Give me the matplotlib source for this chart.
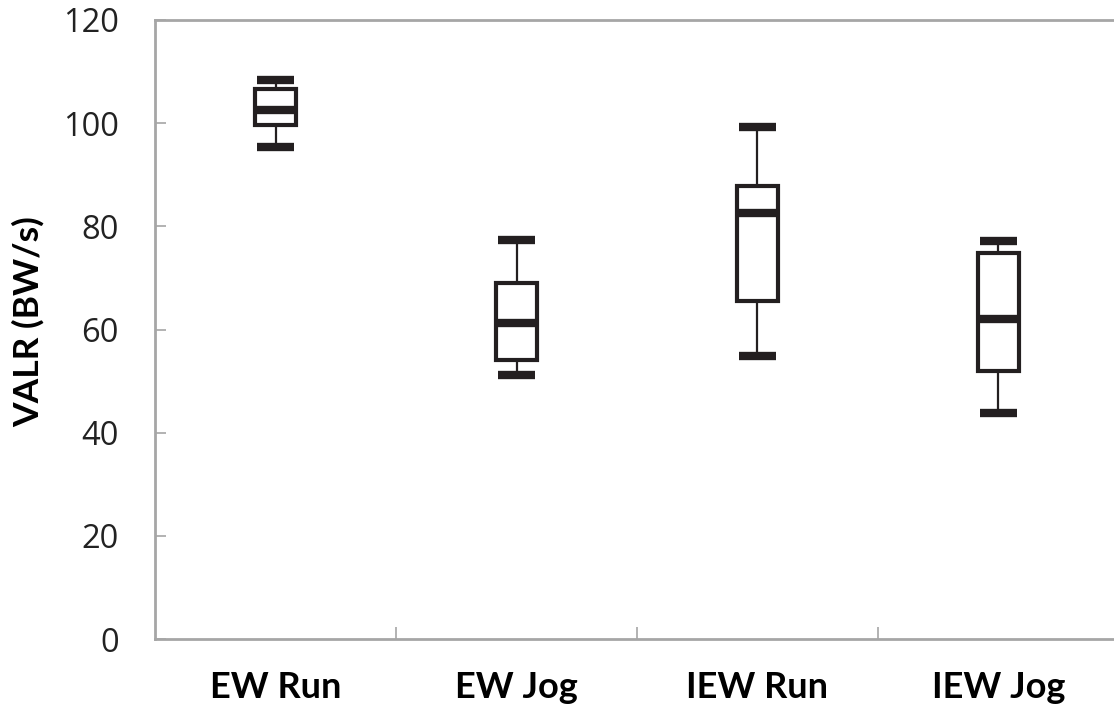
import matplotlib.pyplot as plt

# values (VALR in BW/s)
groups = ['EW Run', 'EW Jog', 'IEW Run', 'IEW Jog']
whisk_hi = [108.4, 77.4, 99.3, 77.1]
q3 = [106.6, 69.1, 87.8, 74.9]
med = [102.5, 61.3, 82.5, 62.0]
q1 = [99.6, 54.0, 65.6, 52.0]
whisk_lo = [95.4, 51.2, 54.8, 43.9]
yticks = [0, 20, 40, 60, 80, 100, 120]

stats = []
for i in range(len(groups)):
    stats.append({'label': groups[i], 'whishi': whisk_hi[i], 'q3': q3[i],
                  'med': med[i], 'q1': q1[i], 'whislo': whisk_lo[i], 'fliers': []})

ink = '#231f20'
grey = '#a6a6a6'

fig = plt.figure(figsize=(11.14, 7.04), dpi=100)
ax = fig.add_axes([155/1114, 65/704, 964/1114, 619/704])

pos = list(range(len(groups)))
ax.bxp(stats, positions=pos, widths=0.17, capwidths=0.155, patch_artist=True, showfliers=False,
       boxprops=dict(facecolor='white', edgecolor=ink, linewidth=3.0),
       medianprops=dict(color=ink, linewidth=6.0, solid_capstyle='butt'),
       whiskerprops=dict(color=ink, linewidth=1.6),
       capprops=dict(color=ink, linewidth=6.0, solid_capstyle='butt'))

ax.set_xlim(-0.5, len(groups) - 0.5)
ax.set_ylim(0, 120)
ax.set_yticks(yticks)
ax.set_xticks(pos)
ax.set_xticklabels(groups, fontfamily='Lato', fontweight='bold', fontsize=26)
ax.set_xticks([0.5, 1.5, 2.5], minor=True)
ax.tick_params(axis='x', which='major', length=0, pad=23)
ax.tick_params(axis='x', which='minor', direction='in', length=9, width=1.2, color=grey)
ax.tick_params(axis='y', direction='in', length=8, width=1.2, color=grey, pad=26)
for lab in ax.get_yticklabels():
    lab.set_fontfamily('Open Sans')
    lab.set_fontsize(23.5)
    lab.set_color('#222222')

for s in ax.spines.values():
    s.set_color(grey)
    s.set_linewidth(2.0)

ax.set_ylabel('VALR (BW/s)', fontfamily='Lato', fontweight='bold', fontsize=25.5)
ax.yaxis.set_label_coords(-0.114, 0.512)

fig.savefig('out.png', dpi=100)
